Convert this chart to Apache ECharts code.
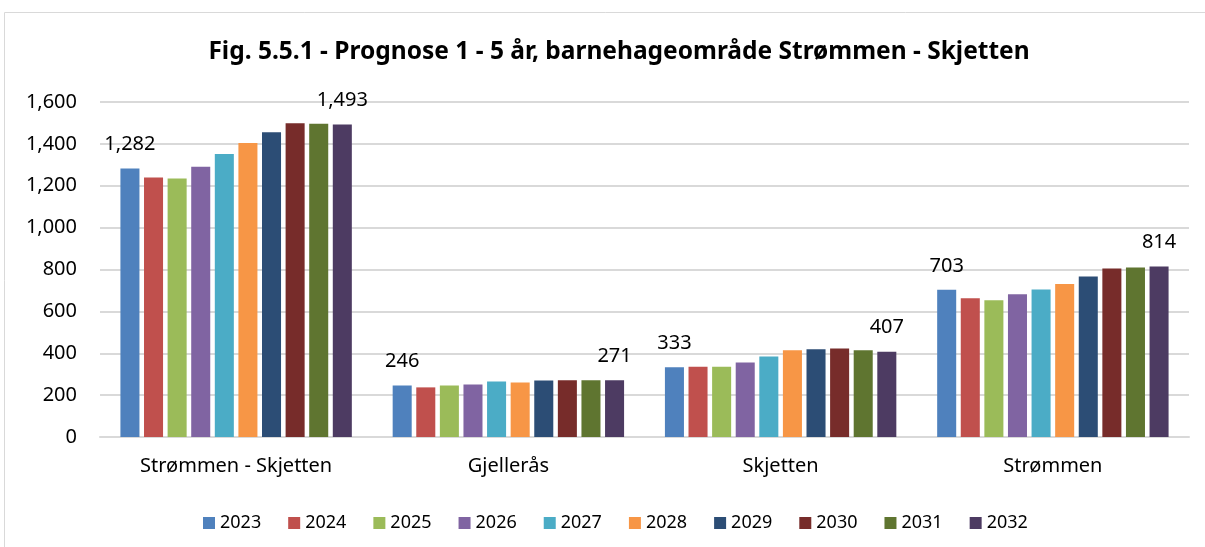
<!DOCTYPE html>
<html>
<head>
<meta charset="utf-8">
<script src="https://cdn.jsdelivr.net/npm/echarts@6/dist/echarts.min.js"></script>
<style>
  html, body { margin: 0; padding: 0; background: #fff; }
  #chart { width: 1205px; height: 547px; }
</style>
</head>
<body>
<div id="chart"></div>
<script>
  const categories = ['Strømmen - Skjetten', 'Gjellerås', 'Skjetten', 'Strømmen'];
  const years = ['2023', '2024', '2025', '2026', '2027', '2028', '2029', '2030', '2031', '2032'];
  const v2023 = [1282, 246, 333, 703];
  const v2024 = [1239, 237, 336, 663];
  const v2025 = [1235, 246, 336, 653];
  const v2026 = [1291, 251, 356, 682];
  const v2027 = [1352, 265, 385, 705];
  const v2028 = [1404, 260, 414, 731];
  const v2029 = [1455, 270, 419, 767];
  const v2030 = [1498, 271, 423, 805];
  const v2031 = [1496, 271, 414, 810];
  const v2032 = [1493, 271, 407, 814];
  const colors = ['#4F81BD', '#C0504D', '#9BBB59', '#8064A2', '#4BACC6',
                  '#F79646', '#2C4D75', '#772C2A', '#5F7530', '#4D3B62'];

  const allValues = [v2023, v2024, v2025, v2026, v2027, v2028, v2029, v2030, v2031, v2032];
  const font = 'Noto Sans';
  const fmt = v => Number(v).toLocaleString('en-US');

  // labels only on first and last year, like the original
  const series = years.map((y, i) => ({
    name: y,
    type: 'bar',
    data: allValues[i],
    itemStyle: { color: colors[i] },
    barGap: '24%',
    barCategoryGap: '15%',
    label: {
      show: i === 0 || i === years.length - 1,
      position: 'top',
      distance: 14,
      color: '#000',
      fontFamily: font,
      fontSize: 20,
      formatter: p => fmt(p.value)
    }
  }));

  const chart = echarts.init(document.getElementById('chart'));
  chart.setOption({
    animation: false,
    color: colors,
    title: {
      text: 'Fig. 5.5.1 - Prognose 1 - 5 år, barnehageområde Strømmen - Skjetten',
      left: 614,
      textAlign: 'center',
      top: 35,
      textStyle: { fontFamily: font, fontSize: 24.5, fontWeight: 'bold', color: '#000' }
    },
    graphic: [{
      type: 'rect',
      shape: { x: 4.5, y: 12.5, width: 1210, height: 550 },
      style: { fill: 'none', stroke: '#d9d9d9', lineWidth: 1 },
      silent: true
    }],
    legend: {
      data: years,
      bottom: 10,
      left: 198,
      itemWidth: 12,
      itemHeight: 12,
      itemGap: 27,
      icon: 'rect',
      textStyle: { fontFamily: font, fontSize: 18, color: '#000' }
    },
    grid: { left: 100, right: 16, top: 102, bottom: 110 },
    xAxis: {
      type: 'category',
      data: categories,
      axisTick: { show: false },
      axisLine: { lineStyle: { color: '#d9d9d9', width: 2 } },
      axisLabel: { fontFamily: font, fontSize: 20, color: '#000', margin: 19 }
    },
    yAxis: {
      type: 'value',
      min: 0,
      max: 1600,
      interval: 200,
      axisLine: { show: false },
      axisTick: { show: false },
      splitLine: { lineStyle: { color: '#d9d9d9', width: 2 } },
      axisLabel: { fontFamily: font, fontSize: 20, color: '#000', margin: 23, formatter: fmt }
    },
    series: series
  });
</script>
</body>
</html>
